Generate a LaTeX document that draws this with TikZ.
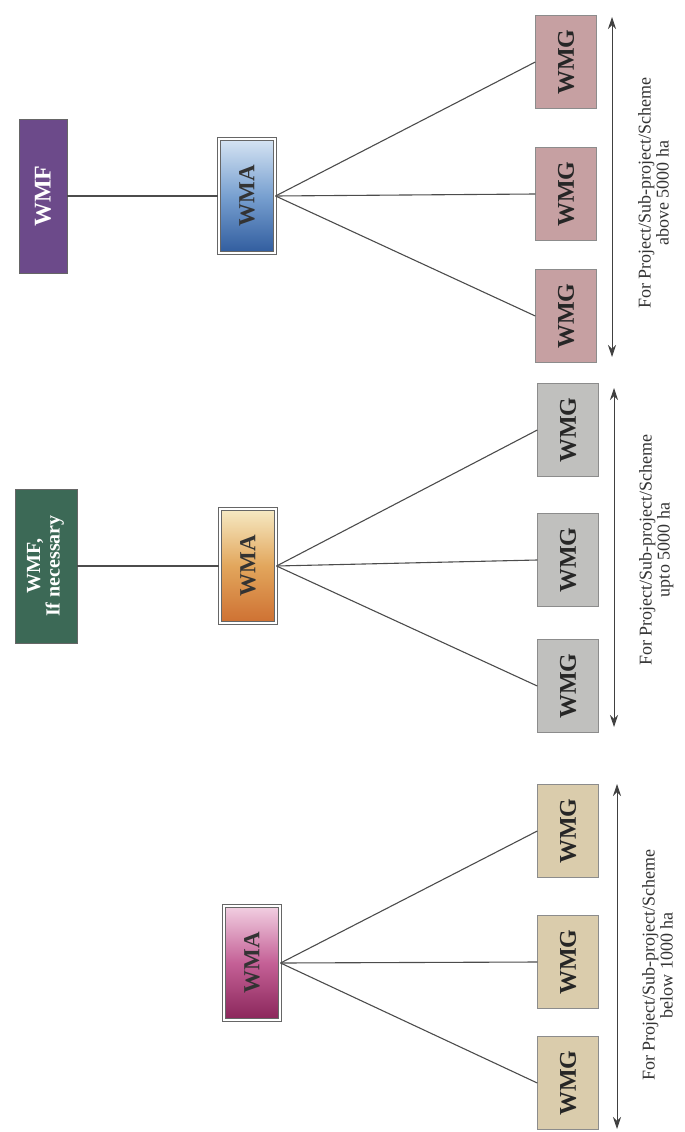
\documentclass[tikz,border=0pt]{standalone}
\usepackage{fontspec}
\setmainfont{Liberation Serif}
\usepackage{graphicx}
\usetikzlibrary{arrows.meta,positioning}
\definecolor{wmfpurple}{RGB}{108,74,138}
\definecolor{wmfgreen}{RGB}{60,105,86}
\definecolor{wmgpink}{RGB}{198,160,162}
\definecolor{wmggray}{RGB}{192,192,190}
\definecolor{wmgtan}{RGB}{218,204,172}
\definecolor{bluetop}{RGB}{214,228,243}
\definecolor{bluemid}{RGB}{120,160,208}
\definecolor{bluebot}{RGB}{48,92,158}
\definecolor{orangetop}{RGB}{246,234,196}
\definecolor{orangemid}{RGB}{226,166,92}
\definecolor{orangebot}{RGB}{206,112,50}
\definecolor{pinktop}{RGB}{242,208,226}
\definecolor{pinkmid}{RGB}{196,96,150}
\definecolor{pinkbot}{RGB}{138,38,90}

\begin{document}
\begin{tikzpicture}[x=1pt, y=-1pt,
    wmf/.style={rectangle, draw=black!60, text=white, minimum width=48pt, minimum height=154pt, inner sep=0pt, font=\fontsize{24}{24}\selectfont\bfseries},
    wma/.style={rectangle, draw=black!60, line width=1.1pt, double=white, double distance=2pt, minimum width=56pt, minimum height=114pt, inner sep=0pt, text=black!80, font=\fontsize{23}{23}\selectfont\bfseries},
    wmg/.style={rectangle, draw=black!45, minimum width=61pt, minimum height=93pt, inner sep=0pt, text=black!85, font=\fontsize{24}{24}\selectfont\bfseries},
    link/.style={draw=black!70, line width=1.1pt},
    span/.style={{Stealth[length=12pt,width=8pt]}-{Stealth[length=12pt,width=8pt]}, line width=0.9pt, black!75},
    note/.style={inner sep=0pt, text=black!80, font=\fontsize{18}{18}\selectfont},
]
    \useasboundingbox (0,0) rectangle (685,1132);

    % Above 5000 ha
    \node[wmf, fill=wmfpurple] (wmf1) at (43,196) {\rotatebox{90}{WMF}};
    \node[wma, top color=bluetop, bottom color=bluebot, middle color=bluemid] (wma1) at (247,196) {\rotatebox{90}{WMA}};
    \draw[link] (wmf1) -- (wma1);
    \foreach \y [count=\i] in {62,194,316} {
        \node[wmg, fill=wmgpink] (wmg1\i) at (566,\y) {\rotatebox{90}{WMG}};
        \draw[link] (wma1.east) -- (wmg1\i.west);
    }
    \coordinate (top1) at (612,17);
    \coordinate (bot1) at (612,357);
    \draw[span] (top1) -- (bot1);
    \node[note] (note1) at (656,193) {\rotatebox{90}{\begin{tabular}{@{}c@{}}For Project/Sub-project/Scheme\\above 5000 ha\end{tabular}}};

    % Upto 5000 ha
    \node[wmf, fill=wmfgreen, minimum width=62pt, font=\fontsize{20}{18}\selectfont\bfseries] (wmf2) at (46,566) {\rotatebox{90}{\begin{tabular}{@{}c@{}}WMF,\\If necessary\end{tabular}}};
    \node[wma, top color=orangetop, bottom color=orangebot, middle color=orangemid] (wma2) at (248,566) {\rotatebox{90}{WMA}};
    \draw[link] (wmf2) -- (wma2);
    \foreach \y [count=\i] in {430,560,686} {
        \node[wmg, fill=wmggray] (wmg2\i) at (568,\y) {\rotatebox{90}{WMG}};
        \draw[link] (wma2.east) -- (wmg2\i.west);
    }
    \coordinate (top2) at (614,388);
    \coordinate (bot2) at (614,727);
    \draw[span] (top2) -- (bot2);
    \node[note] (note2) at (657,550) {\rotatebox{90}{\begin{tabular}{@{}c@{}}For Project/Sub-project/Scheme\\upto 5000 ha\end{tabular}}};

    % Below 1000 ha
    \node[wma, top color=pinktop, bottom color=pinkbot, middle color=pinkmid] (wma3) at (252,963) {\rotatebox{90}{WMA}};
    \foreach \y [count=\i] in {831,962,1083} {
        \node[wmg, fill=wmgtan] (wmg3\i) at (568,\y) {\rotatebox{90}{WMG}};
        \draw[link] (wma3.east) -- (wmg3\i.west);
    }
    \coordinate (top3) at (617,784);
    \coordinate (bot3) at (617,1129);
    \draw[span] (top3) -- (bot3);
    \node[note] (note3) at (660,965) {\rotatebox{90}{\begin{tabular}{@{}c@{}}For Project/Sub-project/Scheme\\below 1000 ha\end{tabular}}};
\end{tikzpicture}
\end{document}
